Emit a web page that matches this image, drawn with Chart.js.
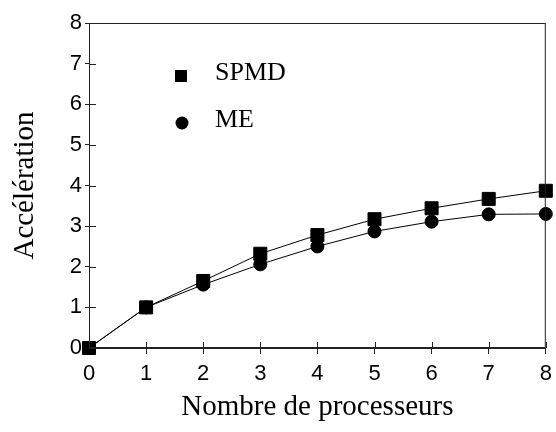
<!DOCTYPE html>
<html>
<head>
<meta charset="utf-8">
<script src="https://cdn.jsdelivr.net/npm/chart.js@4"></script>
<style>
  html, body { margin: 0; padding: 0; background: #fff; }
  #wrap { width: 556px; height: 432px; }
</style>
</head>
<body>
<div id="wrap"><canvas id="chart" width="556" height="432"></canvas></div>
<script>
// Data
const processors = [0, 1, 2, 3, 4, 5, 6, 7, 8];
const spmd = [0, 1.0, 1.65, 2.32, 2.78, 3.17, 3.44, 3.67, 3.87];
const me = [0, 1.0, 1.56, 2.06, 2.5, 2.87, 3.11, 3.29, 3.3];
const yTicks = [0, 1, 2, 3, 4, 5, 6, 7, 8];

const toPoints = vals => vals.map((v, i) => ({ x: processors[i], y: v }));

// Frame around the plot + the inner half of each tick mark
const frame = {
  id: "frame",
  afterDatasetsDraw(chart) {
    const { ctx, chartArea: a, scales } = chart;
    ctx.save();
    ctx.strokeStyle = "#222";
    ctx.lineWidth = 1;
    ctx.strokeRect(a.left + 0.5, a.top + 0.5, a.right - a.left - 1, a.bottom - a.top - 1);
    ctx.beginPath();
    processors.forEach(v => {
      const x = Math.round(scales.x.getPixelForValue(v)) + 0.5;
      ctx.moveTo(x, a.bottom);
      ctx.lineTo(x, a.bottom - 6);
    });
    yTicks.forEach(v => {
      const y = Math.round(scales.y.getPixelForValue(v)) + 0.5;
      ctx.moveTo(a.left, y);
      ctx.lineTo(a.left + 7, y);
    });
    ctx.stroke();
    ctx.restore();
  }
};

// Legend drawn inside the plot area, top-left
const innerLegend = {
  id: "innerLegend",
  afterDraw(chart) {
    const { ctx } = chart;
    ctx.save();
    ctx.fillStyle = "#000";
    ctx.font = "26px 'Liberation Serif', 'Times New Roman', serif";
    ctx.textBaseline = "middle";
    const items = chart.data.datasets;
    items.forEach((ds, i) => {
      const cy = 76 + i * 47;
      ctx.beginPath();
      if (ds.pointStyle === "rect") {
        ctx.rect(175, cy - 6, 12, 12);
      } else {
        ctx.arc(182, cy, 6.5, 0, Math.PI * 2);
      }
      ctx.fill();
      ctx.fillText(ds.label, 215, cy - 3);
    });
    ctx.restore();
  }
};

new Chart(document.getElementById("chart"), {
  type: "line",
  data: {
    datasets: [
      {
        label: "SPMD",
        data: toPoints(spmd),
        borderColor: "#000",
        backgroundColor: "#000",
        borderWidth: 1,
        pointStyle: "rect",
        pointRadius: 9.2,
        pointHoverRadius: 9.2,
        clip: false
      },
      {
        label: "ME",
        data: toPoints(me),
        borderColor: "#000",
        backgroundColor: "#000",
        borderWidth: 1,
        pointStyle: "circle",
        pointRadius: 6.5,
        pointHoverRadius: 6.5,
        clip: false
      }
    ]
  },
  options: {
    responsive: false,
    animation: false,
    layout: { padding: { top: 23, right: 0, left: 0, bottom: 0 } },
    plugins: {
      legend: { display: false },
      tooltip: { enabled: false }
    },
    scales: {
      x: {
        type: "linear",
        min: 0,
        max: 8,
        afterFit: s => { s.height = 84; s.paddingRight = 6; s.paddingLeft = 0; },
        ticks: {
          stepSize: 1,
          color: "#000",
          padding: 7,
          font: { family: "'Liberation Sans', Arial, sans-serif", size: 22 }
        },
        grid: { drawOnChartArea: false, tickLength: 6, color: "#222" },
        border: { color: "#222" },
        title: {
          display: true,
          text: "Nombre de processeurs",
          color: "#000",
          padding: { top: 0, bottom: 7 },
          font: { family: "'Liberation Serif', 'Times New Roman', serif", size: 29 }
        }
      },
      y: {
        min: 0,
        max: 8,
        afterFit: s => { s.width = 89; },
        ticks: {
          stepSize: 1,
          color: "#000",
          padding: 3,
          font: { family: "'Liberation Sans', Arial, sans-serif", size: 22 }
        },
        grid: { drawOnChartArea: false, tickLength: 4, color: "#222" },
        border: { color: "#222" },
        title: {
          display: true,
          text: "Accélération",
          color: "#000",
          padding: { top: 8, bottom: 0 },
          font: { family: "'Liberation Serif', 'Times New Roman', serif", size: 29 }
        }
      }
    }
  },
  plugins: [frame, innerLegend]
});
</script>
</body>
</html>
